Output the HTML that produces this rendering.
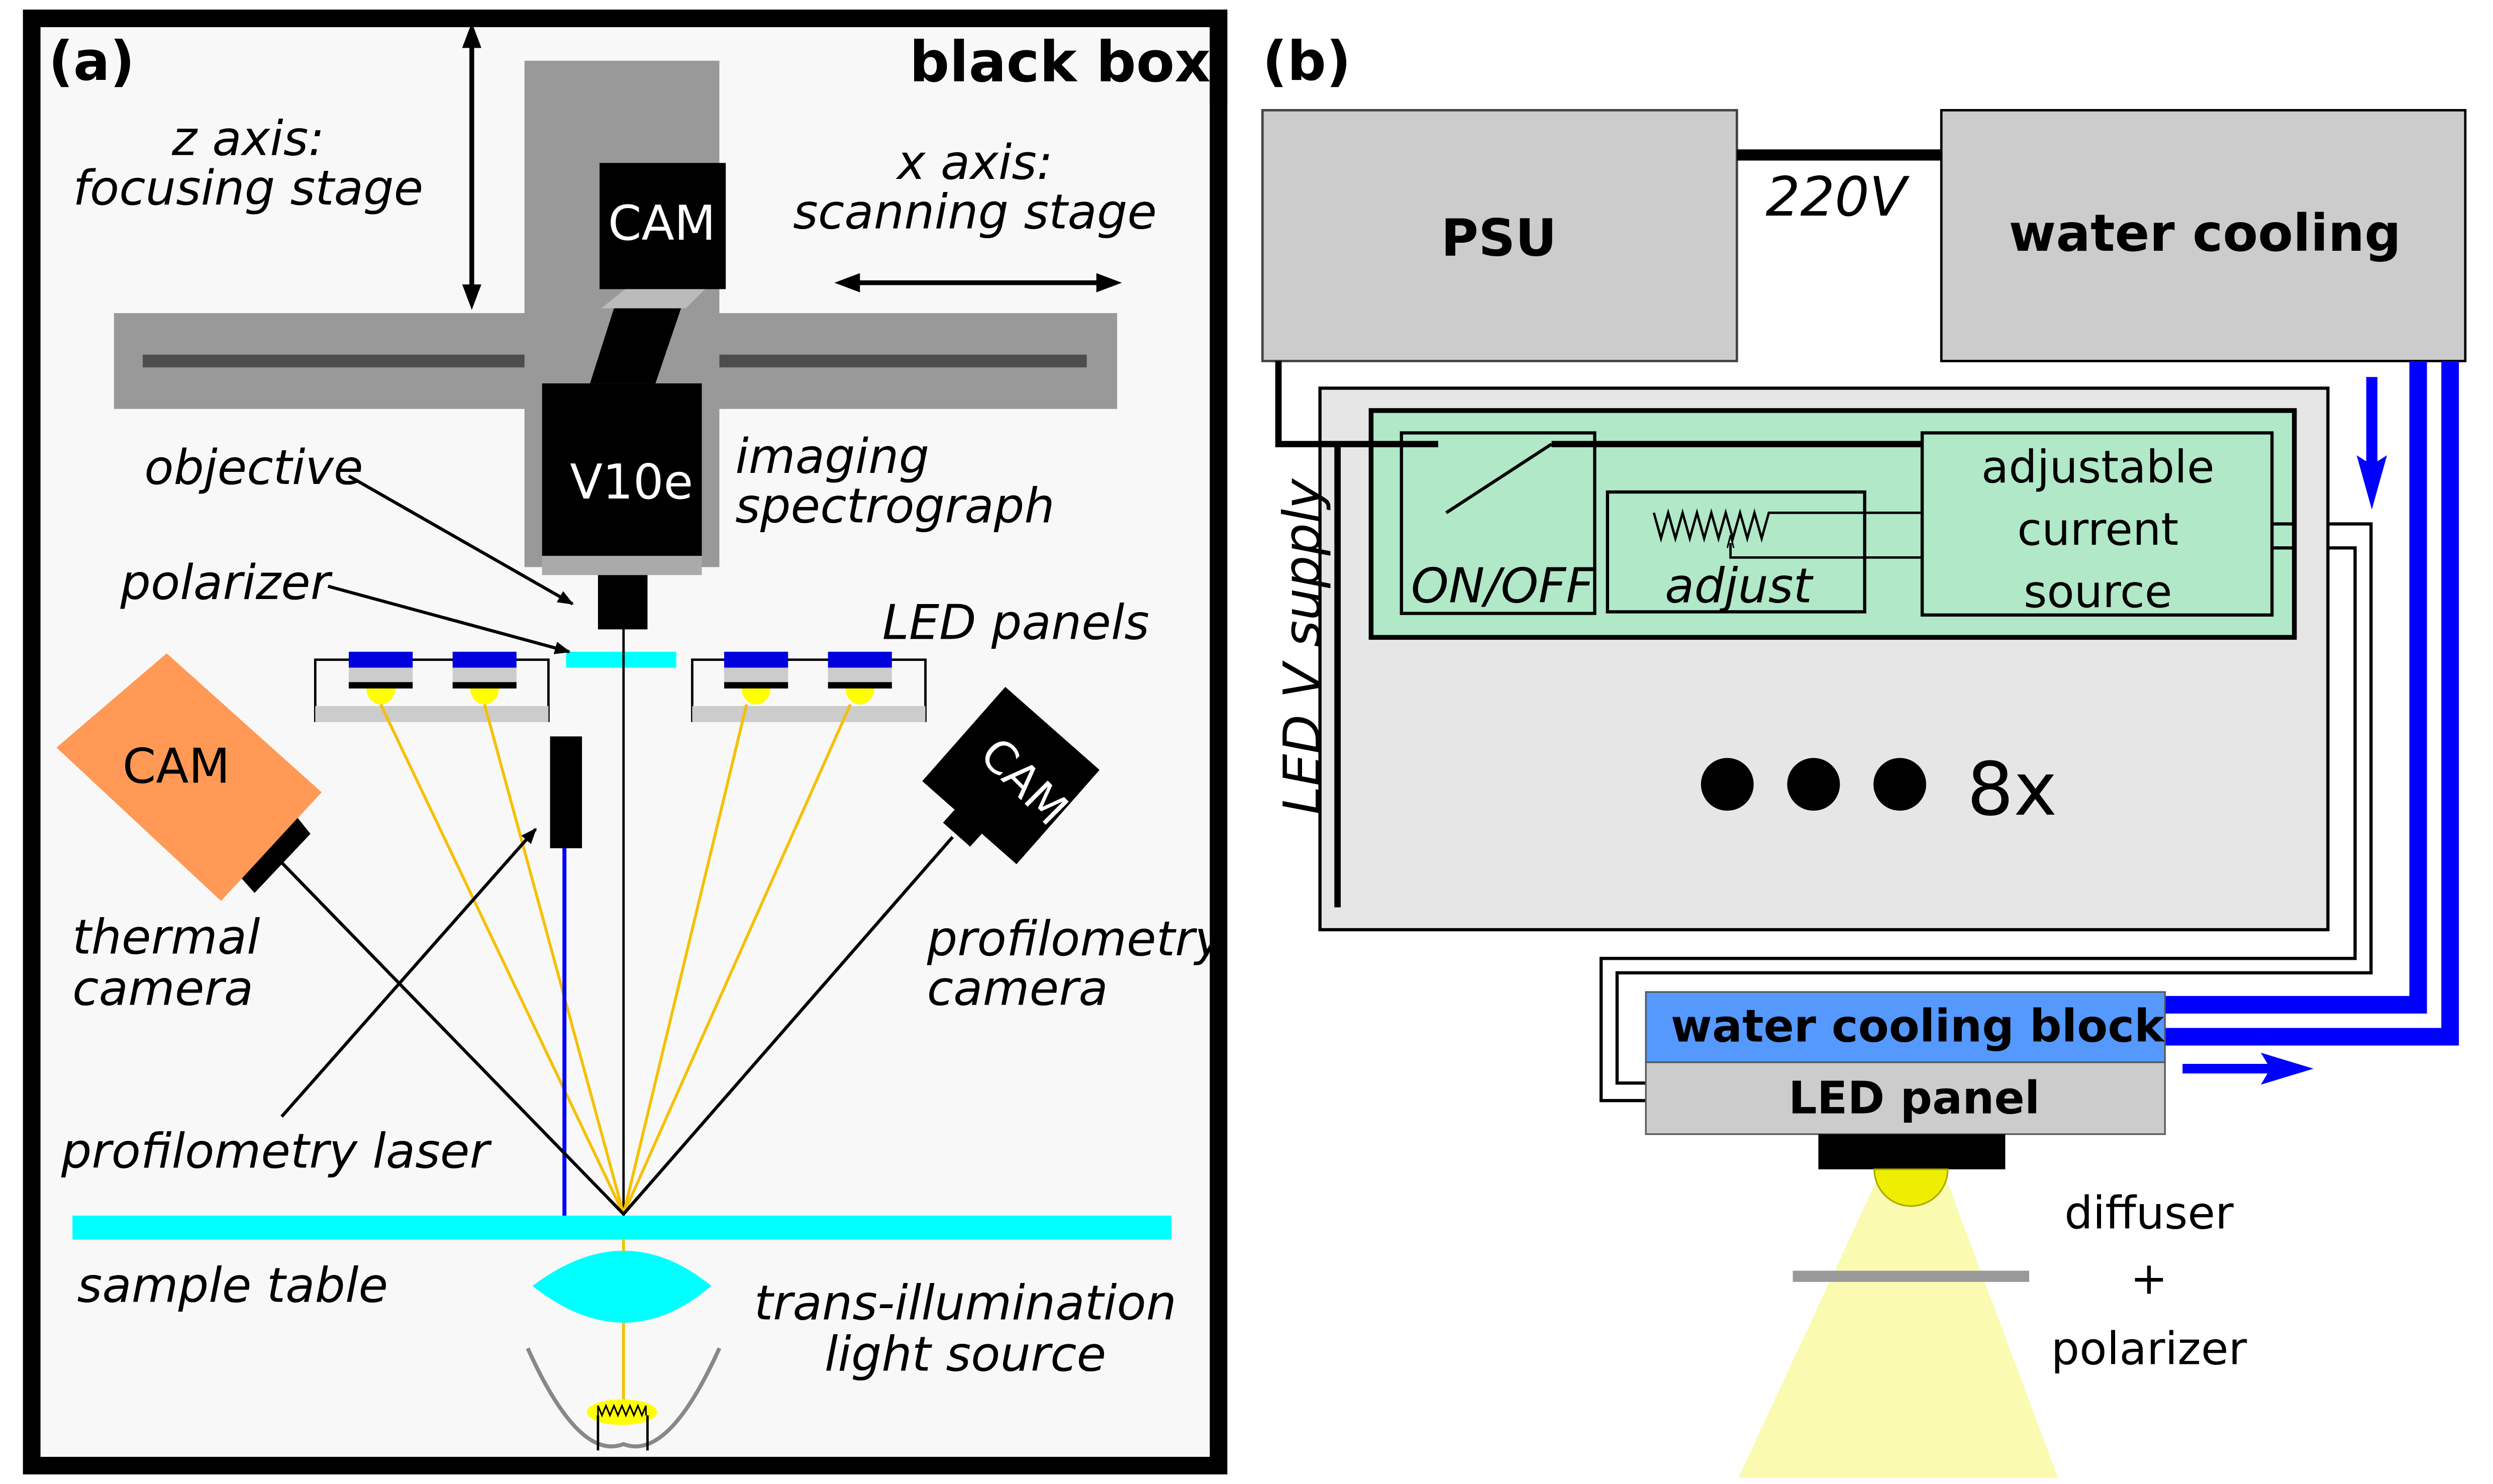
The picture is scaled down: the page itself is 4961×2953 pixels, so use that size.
<!DOCTYPE html>
<html><head><meta charset="utf-8"><style>
html,body{margin:0;padding:0;background:#fff}
svg{display:block}
text{font-family:"DejaVu Sans","Liberation Sans",sans-serif}
</style></head><body>
<svg width="4961" height="2953" viewBox="0 0 1560 929" xmlns="http://www.w3.org/2000/svg">
<defs>
<marker id="ah" markerWidth="10" markerHeight="10" refX="9" refY="5" orient="auto" markerUnits="userSpaceOnUse"><path d="M0,1 L10,5 L0,9 z" fill="#000"/></marker>
<marker id="ahs" markerWidth="16" markerHeight="16" refX="8" refY="8" orient="auto-start-reverse" markerUnits="userSpaceOnUse"><path d="M0,2 L16,8 L0,14 z" fill="#000"/></marker>
</defs>
<rect width="1560" height="929" fill="#fff"/>
<!-- (a) -->
<rect x="19.5" y="11.5" width="743" height="906" fill="#f8f8f8" stroke="#000" stroke-width="11"/>
<rect x="328" y="38" width="122" height="317" fill="#999"/>
<rect x="71" y="196" width="628" height="60" fill="#999"/>
<rect x="89" y="222" width="239" height="8" fill="#4d4d4d"/>
<rect x="450" y="222" width="230" height="8" fill="#4d4d4d"/>
<rect x="375" y="102" width="79" height="79" fill="#000"/>
<text x="414" y="150" font-size="30" fill="#fff" text-anchor="middle">CAM</text>
<polygon points="391,181 441,181 429,193 376,193" fill="#bbb"/>
<polygon points="384,193 426,193 410,240 369,240" fill="#000"/>
<rect x="339" y="240" width="100" height="108" fill="#000"/>
<rect x="339" y="348" width="100" height="12" fill="#aaa"/>
<text x="395" y="312" font-size="30" fill="#fff" text-anchor="middle">V10e</text>
<rect x="374" y="360" width="31" height="34" fill="#000"/>
<rect x="354" y="408" width="69" height="10" fill="#00ffff"/>
<line x1="390" y1="394" x2="390" y2="761" stroke="#000" stroke-width="1.5"/>
<!-- LED panels -->
<g>
<rect x="197" y="442" width="146" height="10" fill="#ccc"/>
<path d="M197,452 V413 H343 V452" stroke="#000" stroke-width="1.5" fill="none"/>
<rect x="197" y="442" width="146" height="10" fill="#ccc"/>
<rect x="218" y="408" width="40" height="10" fill="#0000dd"/><rect x="218" y="418" width="40" height="9" fill="#ccc"/><rect x="218" y="427" width="40" height="4" fill="#000"/>
<rect x="283" y="408" width="40" height="10" fill="#0000dd"/><rect x="283" y="418" width="40" height="9" fill="#ccc"/><rect x="283" y="427" width="40" height="4" fill="#000"/>
<path d="M229,431 A9,10 0 0 0 247,431 z" fill="#ff0"/><path d="M294,431 A9,10 0 0 0 312,431 z" fill="#ff0"/>
<rect x="433" y="442" width="146" height="10" fill="#ccc"/>
<path d="M433,452 V413 H579 V452" stroke="#000" stroke-width="1.5" fill="none"/>
<rect x="433" y="442" width="146" height="10" fill="#ccc"/>
<rect x="453" y="408" width="40" height="10" fill="#0000dd"/><rect x="453" y="418" width="40" height="9" fill="#ccc"/><rect x="453" y="427" width="40" height="4" fill="#000"/>
<rect x="518" y="408" width="40" height="10" fill="#0000dd"/><rect x="518" y="418" width="40" height="9" fill="#ccc"/><rect x="518" y="427" width="40" height="4" fill="#000"/>
<path d="M464,431 A9,10 0 0 0 482,431 z" fill="#ff0"/><path d="M529,431 A9,10 0 0 0 547,431 z" fill="#ff0"/>
</g>
<g stroke="#f5c000" stroke-width="1.8">
<line x1="238" y1="441" x2="390" y2="760"/><line x1="303" y1="441" x2="390" y2="760"/>
<line x1="467" y1="441" x2="390" y2="760"/><line x1="532" y1="441" x2="390" y2="760"/>
<line x1="390" y1="776" x2="390" y2="878"/>
</g>
<rect x="344" y="461" width="20" height="70" fill="#000"/>
<line x1="353" y1="531" x2="353" y2="761" stroke="#0000ff" stroke-width="2.5"/>
<!-- thermal cam -->
<polygon points="104,409 201,496 138,564 35,468" fill="#ff9955"/>
<polygon points="186,512 194,522 159,559 151,550" fill="#000"/>
<text x="110" y="490" font-size="30" text-anchor="middle">CAM</text>
<line x1="176" y1="540" x2="390" y2="760" stroke="#000" stroke-width="2"/>
<!-- profilometry cam -->
<polygon points="629,430 688,482 636,541 577,489" fill="#000"/>
<polygon points="590,515 608,495 625,510 607,530" fill="#000"/>
<text x="0" y="0" font-size="28" fill="#fff" text-anchor="middle" transform="translate(634,496) rotate(45)">CAM</text>
<line x1="596" y1="524" x2="390" y2="760" stroke="#000" stroke-width="2"/>
<!-- arrows -->
<line x1="218" y1="298" x2="358" y2="378" stroke="#000" stroke-width="2" marker-end="url(#ah)"/>
<line x1="205" y1="367" x2="356" y2="408" stroke="#000" stroke-width="2" marker-end="url(#ah)"/>
<line x1="176" y1="699" x2="335" y2="519" stroke="#000" stroke-width="2" marker-end="url(#ah)"/>
<line x1="295" y1="22" x2="295" y2="186" stroke="#000" stroke-width="3" marker-start="url(#ahs)" marker-end="url(#ahs)"/>
<line x1="530" y1="177" x2="694" y2="177" stroke="#000" stroke-width="3" marker-start="url(#ahs)" marker-end="url(#ahs)"/>
<!-- table, lens -->
<rect x="45" y="761" width="688" height="15" fill="#00ffff"/>
<path d="M333,805 Q362,783 390,783 Q418,783 445,805 Q418,828 390,828 Q362,828 333,805 z" fill="#00ffff"/>
<path d="M330,844 Q362,915 390,904 Q418,915 450,844" stroke="#888" stroke-width="2.5" fill="none"/>
<ellipse cx="389" cy="884" rx="22" ry="8" fill="#ff0"/>
<path d="M374,886 v-6 l2.5,6 2.5,-6 2.5,6 2.5,-6 2.5,6 2.5,-6 2.5,6 2.5,-6 2.5,6 2.5,-6 2.5,6 2.5,-6 v6" stroke="#000" fill="none" stroke-width="1"/>
<line x1="374" y1="886" x2="374" y2="908" stroke="#000" stroke-width="1.5"/><line x1="405" y1="886" x2="405" y2="908" stroke="#000" stroke-width="1.5"/>
<!-- (a) text -->
<text x="30" y="50" font-size="34" font-weight="bold">(a)</text>
<text x="569" y="51" font-size="35" font-weight="bold">black box</text>
<rect x="757" y="6" width="11" height="60" fill="#000"/>
<g font-size="30" font-style="italic">
<text x="155" y="97" text-anchor="middle">z axis:</text>
<text x="155" y="128" text-anchor="middle">focusing stage</text>
<text x="610" y="112" text-anchor="middle">x axis:</text>
<text x="610" y="143" text-anchor="middle">scanning stage</text>
<text x="90" y="303">objective</text>
<text x="460" y="296">imaging</text>
<text x="460" y="327">spectrograph</text>
<text x="75" y="375">polarizer</text>
<text x="552" y="400">LED panels</text>
<text x="45" y="597">thermal</text>
<text x="45" y="629">camera</text>
<text x="580" y="598">profilometry</text>
<text x="580" y="629">camera</text>
<text x="38" y="731">profilometry laser</text>
<text x="48" y="815">sample table</text>
<text x="604" y="826" text-anchor="middle">trans-illumination</text>
<text x="604" y="858" text-anchor="middle">light source</text>
</g>
<!-- (b) -->
<text x="790" y="50" font-size="34" font-weight="bold">(b)</text>
<rect x="790" y="69" width="297" height="157" fill="#ccc" stroke="#444" stroke-width="1.5"/>
<text x="938" y="160" font-size="32" font-weight="bold" text-anchor="middle">PSU</text>
<rect x="1215" y="69" width="328" height="157" fill="#ccc" stroke="#000" stroke-width="1.5"/>
<text x="1380" y="157" font-size="32" font-weight="bold" text-anchor="middle">water cooling</text>
<line x1="1087" y1="97" x2="1215" y2="97" stroke="#000" stroke-width="7"/>
<text x="1105" y="135" font-size="34" font-style="italic">220V</text>
<rect x="826" y="243" width="631" height="339" fill="#e6e6e6" stroke="#000" stroke-width="2"/>
<rect x="858" y="257" width="578" height="142" fill="#b0e8c8" stroke="#000" stroke-width="3"/>
<rect x="877" y="271" width="121" height="113" fill="none" stroke="#000" stroke-width="2"/>
<path d="M800,226 V278 H900" stroke="#000" stroke-width="4" fill="none"/>
<line x1="905" y1="321" x2="971" y2="278" stroke="#000" stroke-width="2"/>
<path d="M971,278 H1203" stroke="#000" stroke-width="4"/>
<text x="883" y="377" font-size="30" font-style="italic">ON/OFF</text>
<rect x="1006" y="308" width="161" height="75" fill="none" stroke="#000" stroke-width="2"/>
<path d="M1035,321 l4.5,16 4.5,-16 4.5,16 4.5,-16 4.5,16 4.5,-16 4.5,16 4.5,-16 4.5,16 4.5,-16 4.5,16 4.5,-16 4.5,16 4.5,-16 4.5,16 4.5,-16 4,0 H1203" stroke="#000" fill="none" stroke-width="1.5"/>
<path d="M1203,349 H1083 V340" stroke="#000" fill="none" stroke-width="1.5"/>
<path d="M1081,343 L1083,335 L1085,343" stroke="#000" fill="none" stroke-width="1"/>
<text x="1088" y="377" font-size="30" font-style="italic" text-anchor="middle">adjust</text>
<rect x="1203" y="271" width="219" height="114" fill="none" stroke="#000" stroke-width="2"/>
<text x="1313" y="302" font-size="28" text-anchor="middle">adjustable</text>
<text x="1313" y="341" font-size="28" text-anchor="middle">current</text>
<text x="1313" y="380" font-size="28" text-anchor="middle">source</text>
<ellipse cx="1081" cy="491" rx="16.5" ry="16.5" fill="#000"/><ellipse cx="1135" cy="491" rx="16.5" ry="16.5" fill="#000"/><ellipse cx="1189" cy="491" rx="16.5" ry="16.5" fill="#000"/>
<text x="1231" y="510" font-size="46">8x</text>
<line x1="837" y1="278" x2="837" y2="568" stroke="#000" stroke-width="4"/>
<text x="0" y="0" font-size="32" font-style="italic" transform="translate(826,510) rotate(-90)">LED V supply</text>
<!-- wires -->
<g fill="none" stroke="#000" stroke-width="2">
<path d="M1422,328 H1436 M1457,328 H1484 V609 H1012 V678 H1030"/>
<path d="M1422,343 H1436 M1457,343 H1474 V600 H1002 V689 H1030"/>
</g>
<!-- blue water lines -->
<g fill="none" stroke="#0000ff" stroke-width="11">
<path d="M1513.5,226 V629 H1355"/>
<path d="M1533.5,226 V649 H1355"/>
</g>
<rect x="1481" y="236" width="7" height="55" fill="#0000ff"/>
<polygon points="1475,285 1484.5,319 1494,285 1484.5,291" fill="#0000ff"/>
<rect x="1366" y="666" width="55" height="6" fill="#0000ff"/>
<polygon points="1415,659 1448,669 1415,679 1421,669" fill="#0000ff"/>
<rect x="1030" y="621" width="325" height="44" fill="#5599ff" stroke="#555" stroke-width="1"/>
<text x="1200" y="652" font-size="28" font-weight="bold" text-anchor="middle">water cooling block</text>
<rect x="1030" y="665" width="325" height="45" fill="#ccc" stroke="#555" stroke-width="1"/>
<text x="1198" y="697" font-size="28" font-weight="bold" text-anchor="middle">LED panel</text>
<polygon points="1175,738 1218,738 1288,925 1088,925" fill="#fafab0"/>
<rect x="1138" y="710" width="117" height="22" fill="#000"/>
<path d="M1173,732 A23,23 0 0 0 1219,732 z" fill="#ee0" stroke="#aa0" stroke-width="1"/>
<line x1="1122" y1="799" x2="1270" y2="799" stroke="#999" stroke-width="7"/>
<text x="1345" y="769" font-size="28" text-anchor="middle">diffuser</text>
<text x="1345" y="810" font-size="28" text-anchor="middle">+</text>
<text x="1345" y="854" font-size="28" text-anchor="middle">polarizer</text>
</svg>
</body></html>
